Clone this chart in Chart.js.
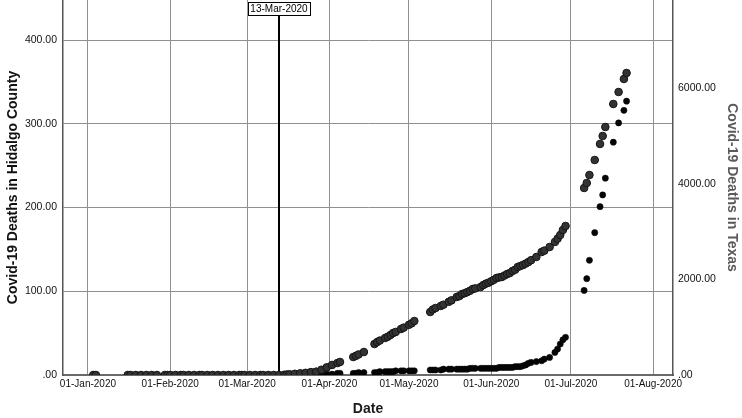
<!DOCTYPE html>
<html>
<head>
<meta charset="utf-8">
<script src="https://cdn.jsdelivr.net/npm/chart.js@4/dist/chart.umd.min.js"></script>
<style>
  html, body { margin: 0; padding: 0; background: #fff; }
  #wrap { width: 742px; height: 418px; position: relative; }
</style>
</head>
<body>
<div id="wrap"><canvas id="c" width="742" height="418"></canvas></div>
<script>
// ---------- DATA ----------
const dates = [
  '2020-01-03','2020-01-04','2020-01-16','2020-01-17','2020-01-19','2020-01-21','2020-01-23','2020-01-25','2020-01-27','2020-01-30','2020-01-31',
  '2020-02-01','2020-02-03','2020-02-05','2020-02-06','2020-02-08','2020-02-10','2020-02-12','2020-02-13','2020-02-15','2020-02-17','2020-02-19','2020-02-21','2020-02-23','2020-02-25','2020-02-27','2020-02-28','2020-02-29',
  '2020-03-02','2020-03-04','2020-03-06','2020-03-07','2020-03-09','2020-03-11',
  '2020-03-13','2020-03-15','2020-03-16','2020-03-17','2020-03-19','2020-03-21','2020-03-23','2020-03-25','2020-03-27','2020-03-29','2020-03-31',
  '2020-04-02','2020-04-04','2020-04-05','2020-04-10','2020-04-11','2020-04-12','2020-04-14','2020-04-18','2020-04-19','2020-04-20','2020-04-22','2020-04-23','2020-04-24','2020-04-25','2020-04-26','2020-04-28','2020-04-29',
  '2020-05-01','2020-05-02','2020-05-03','2020-05-09','2020-05-10','2020-05-11','2020-05-13','2020-05-14','2020-05-16','2020-05-17','2020-05-19','2020-05-20','2020-05-21','2020-05-22','2020-05-23','2020-05-24','2020-05-25','2020-05-26','2020-05-28','2020-05-29','2020-05-30','2020-05-31',
  '2020-06-01','2020-06-02','2020-06-03','2020-06-04','2020-06-05','2020-06-06','2020-06-07','2020-06-08','2020-06-09','2020-06-10','2020-06-11','2020-06-12','2020-06-13','2020-06-14','2020-06-15','2020-06-16',
  '2020-06-18','2020-06-20','2020-06-21','2020-06-23','2020-06-25','2020-06-26','2020-06-27','2020-06-28','2020-06-29',
  '2020-07-06','2020-07-07','2020-07-08','2020-07-10','2020-07-12','2020-07-13','2020-07-14','2020-07-17','2020-07-19','2020-07-21','2020-07-22'
];

const texasDeaths = [
  0,0,0,0,0,0,0,0,0,0,0,
  0,0,0,0,0,0,0,0,0,0,0,0,0,0,0,0,0,
  0,0,0,0,0,0,
  0,5,10,15,25,35,45,60,70,110,160,
  210,250,272,376,400,430,481,648,690,720,774,800,836,878,900,962,990,
  1050,1080,1129,1317,1370,1400,1443,1470,1530,1560,1631,1650,1693,1710,1735,1760,1798,1810,1840,1880,1910,1930,
  1960,1990,2028,2040,2049,2080,2112,2130,2174,2200,2258,2280,2300,2330,2362,2400,
  2467,2572,2600,2676,2781,2850,2927,3032,3115,
  3910,4014,4181,4495,4830,4997,5185,5666,5917,6189,6314
];

const hidalgoDeaths = [
  0,0,0,0,0,0,0,0,0,0,0,
  0,0,0,0,0,0,0,0,0,0,0,0,0,0,0,0,0,
  0,0,0,0,0,0,
  0,0,0,0,0,0,0,0,1,1,1,
  1,2,2,2,2,3,3,3,3,4,4,4,4,4,5,5,5,
  5,5,5,6,6,6,6,7,7,7,7,7,7,7,7,8,8,8,8,8,8,8,
  8,8,8,9,9,9,9,9,9,10,10,10,11,12,14,15,
  16,17,19,21,27,31,37,42,45,
  101,115,137,170,201,215,235,278,301,316,327
];

const xTickDates  = ['2020-01-01','2020-02-01','2020-03-01','2020-04-01','2020-05-01','2020-06-01','2020-07-01','2020-08-01'];
const xTickLabels = ['01-Jan-2020','01-Feb-2020','01-Mar-2020','01-Apr-2020','01-May-2020','01-Jun-2020','01-Jul-2020','01-Aug-2020'];
const leftTicks   = [0, 100, 200, 300, 400];
const rightTicks  = [0, 2000, 4000, 6000];
const markerDate  = '2020-03-13';
const markerLabel = '13-Mar-2020';

// ---------- helpers ----------
const BASE = Date.UTC(2020, 0, 1);
function dayOf(s) {
  const p = s.split('-').map(Number);
  return (Date.UTC(p[0], p[1] - 1, p[2]) - BASE) / 864e5;
}
const FONT = '"Liberation Sans", Arial, sans-serif';
const fmt = v => (v === 0 ? '.00' : v.toFixed(2));

const texasPts   = dates.map((d, i) => ({ x: dayOf(d), y: texasDeaths[i] }));
const hidalgoPts = dates.map((d, i) => ({ x: dayOf(d), y: hidalgoDeaths[i] }));

function noPad(s) {
  s.paddingTop = 0; s.paddingBottom = 0; s.paddingLeft = 0; s.paddingRight = 0;
}

const markerPlugin = {
  id: 'marker',
  beforeDatasetsDraw(chart) {
    const ctx = chart.ctx;
    const x = Math.round(chart.scales.x.getPixelForValue(dayOf(markerDate)));
    const { top, bottom } = chart.chartArea;
    ctx.save();
    ctx.font = '10px ' + FONT;
    const tw = ctx.measureText(markerLabel).width;
    const bw = tw + 5, bh = 13;
    const bx = x - bw / 2, by = top + 2;
    ctx.strokeStyle = '#000';
    ctx.lineWidth = 2;
    ctx.beginPath();
    ctx.moveTo(x, by + bh);
    ctx.lineTo(x, bottom);
    ctx.stroke();
    ctx.fillStyle = '#fff';
    ctx.fillRect(bx, by, bw, bh);
    ctx.lineWidth = 1;
    ctx.strokeRect(Math.round(bx) + 0.5, by + 0.5, Math.round(bw), bh);
    ctx.fillStyle = '#000';
    ctx.textAlign = 'center';
    ctx.textBaseline = 'middle';
    ctx.fillText(markerLabel, x, by + bh / 2 + 0.5);
    ctx.restore();
  }
};

new Chart(document.getElementById('c'), {
  type: 'scatter',
  data: {
    datasets: [
      {
        label: 'Covid-19 Deaths in Texas',
        data: texasPts,
        yAxisID: 'y2',
        pointRadius: 3.8,
        pointBackgroundColor: '#333333',
        pointBorderColor: '#141414',
        pointBorderWidth: 1,
        order: 1
      },
      {
        label: 'Covid-19 Deaths in Hidalgo County',
        data: hidalgoPts,
        yAxisID: 'y',
        pointRadius: 3.1,
        pointBackgroundColor: '#050505',
        pointBorderColor: '#050505',
        pointBorderWidth: 0.5,
        order: 2
      }
    ]
  },
  options: {
    responsive: false,
    animation: false,
    events: [],
    layout: { autoPadding: false, padding: { top: 0, left: 0, right: 0, bottom: 0 } },
    plugins: { legend: { display: false }, tooltip: { enabled: false } },
    scales: {
      x: {
        type: 'linear',
        min: -9.4,
        max: 220.5,
        afterBuildTicks: s => { s.ticks = xTickDates.map(d => ({ value: dayOf(d) })); },
        afterFit: s => { s.height = 43; noPad(s); },
        ticks: {
          autoSkip: false, maxRotation: 0, padding: 3,
          color: '#111', font: { family: FONT, size: 10 },
          callback: (v, i) => xTickLabels[i]
        },
        grid: { color: '#8f8f8f', lineWidth: 1, drawTicks: false },
        border: { color: '#6a6a6a', width: 2 },
        title: {
          display: true, text: 'Date', color: '#1a1a1a',
          font: { family: FONT, size: 14, weight: 'bold' },
          padding: { top: 3, bottom: 0 }
        }
      },
      y: {
        position: 'left',
        min: 0,
        max: 447.8,
        afterBuildTicks: s => { s.ticks = leftTicks.map(v => ({ value: v })); },
        afterFit: s => { s.width = 63; noPad(s); },
        ticks: {
          padding: 6, color: '#111', font: { family: FONT, size: 10.5 },
          callback: v => fmt(v)
        },
        grid: { color: '#8f8f8f', lineWidth: 1, drawTicks: false },
        border: { color: '#555', width: 1.5 },
        title: {
          display: true, text: 'Covid-19 Deaths in Hidalgo County', color: '#111',
          font: { family: FONT, size: 14, weight: 'bold' },
          padding: { top: 5, bottom: 0 }
        }
      },
      y2: {
        position: 'right',
        min: 0,
        max: 7840,
        afterBuildTicks: s => { s.ticks = rightTicks.map(v => ({ value: v })); },
        afterFit: s => { s.width = 69; noPad(s); },
        ticks: {
          padding: 5, color: '#111', font: { family: FONT, size: 10.5 },
          callback: v => fmt(v)
        },
        grid: { display: false, drawTicks: false },
        border: { display: true, color: '#555', width: 1.5 },
        title: {
          display: true, text: 'Covid-19 Deaths in Texas', color: '#5a5a5a',
          font: { family: FONT, size: 14, weight: 'bold' },
          padding: { top: 2, bottom: 0 }
        }
      }
    }
  },
  plugins: [markerPlugin]
});
</script>
</body>
</html>
